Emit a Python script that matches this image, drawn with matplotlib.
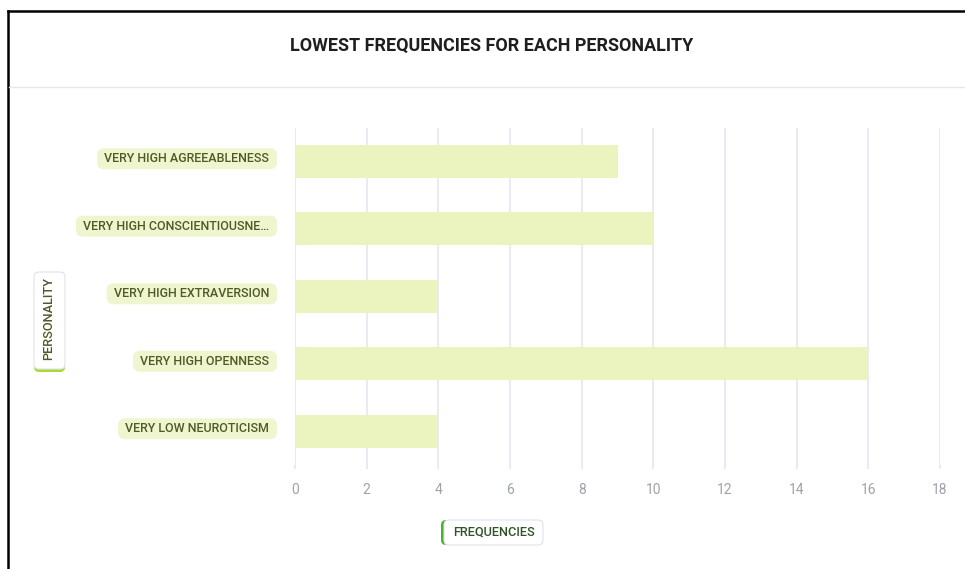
import matplotlib
matplotlib.use("Agg")
import matplotlib.pyplot as plt
from matplotlib.patches import FancyBboxPatch
from matplotlib.lines import Line2D
from matplotlib.transforms import Affine2D

plt.rcParams['font.family'] = ['Roboto', 'DejaVu Sans']

personalities = [
    "VERY HIGH AGREEABLENESS",
    "VERY HIGH CONSCIENTIOUSNE\u2026",
    "VERY HIGH EXTRAVERSION",
    "VERY HIGH OPENNESS",
    "VERY LOW NEUROTICISM",
]
frequencies = [9, 10, 4, 16, 4]
x_ticks = [0, 2, 4, 6, 8, 10, 12, 14, 16, 18]

W, H = 965, 569
LABEL_COLOR = "#4f5a26"
BAR_COLOR = "#ebf4bf"
PILL_COLOR = "#eff6cf"
GRID_COLOR = "#e6e8f0"

fig = plt.figure(figsize=(W / 100, H / 100), dpi=100)
# pixel coordinates, origin at the bottom-left of the figure
px = Affine2D().scale(1 / W, 1 / H) + fig.transFigure


def top(y):
    return H - y


# outer frame and header separator
fig.add_artist(Line2D([8, W], [top(11), top(11)], color="black", lw=1.8, transform=px))
fig.add_artist(Line2D([8, 8], [top(11), 0], color="black", lw=1.8, transform=px))
fig.add_artist(Line2D([9, W], [top(87), top(87)], color="#e4e6ee", lw=1, transform=px))

fig.text(492 / W, 1 - 46 / H, "LOWEST FREQUENCIES FOR EACH PERSONALITY",
         ha="center", va="center", fontsize=13, fontweight="bold", color="#1e1e1e")

ax = fig.add_axes([295 / W, 1 - 465 / H, 645 / W, 337.5 / H])
y_pos = list(range(len(personalities)))
ax.barh(y_pos, frequencies, height=0.49, color=BAR_COLOR, zorder=2)
ax.set_xlim(0, 18)
ax.set_ylim(len(personalities) - 0.5, -0.5)
ax.set_xticks(x_ticks)
ax.set_xticklabels([str(t) for t in x_ticks])
ax.set_yticks([])
ax.xaxis.grid(True, color=GRID_COLOR, lw=1.2, zorder=0)
ax.tick_params(axis="x", length=3, width=1.2, color=GRID_COLOR, pad=10,
               labelsize=10, labelcolor="#9ea2aa")
for s in ax.spines.values():
    s.set_visible(False)

# category labels sitting in rounded pills, a touch above the bar centres
texts = []
for y, name in zip(y_pos, personalities):
    cy = ax.transData.transform((0, y))[1] / fig.dpi * 100 + 2.5
    t = fig.text(269, cy, name, transform=px, ha="right", va="center",
                 fontsize=9, fontweight="medium", color=LABEL_COLOR, zorder=3)
    texts.append((t, cy))

fig.canvas.draw()
renderer = fig.canvas.get_renderer()
for t, cy in texts:
    bb = t.get_window_extent(renderer)
    x0 = bb.x0 * 100 / fig.dpi - 7
    fig.add_artist(FancyBboxPatch((x0, cy - 10.5), 277 - x0, 21,
                                  boxstyle="round,pad=0,rounding_size=7",
                                  fc=PILL_COLOR, ec="none", transform=px, zorder=1))


def tag_box(x0, y0, x1, y1, accent, side):
    # green accent drawn underneath, white card on top leaving a strip visible
    fig.add_artist(FancyBboxPatch((x0, top(y1)), x1 - x0, y1 - y0,
                                  boxstyle="round,pad=0,rounding_size=5",
                                  fc=accent, ec="none", transform=px))
    if side == "bottom":
        box = (x0, top(y1) + 3, x1 - x0, y1 - y0 - 3)
    else:
        box = (x0 + 3, top(y1), x1 - x0 - 3, y1 - y0)
    fig.add_artist(FancyBboxPatch(box[:2], box[2], box[3],
                                  boxstyle="round,pad=0,rounding_size=5",
                                  fc="white", ec="#e2e4e8", lw=0.8, transform=px))


tag_box(34, 272, 65, 372, "#a9d83a", "bottom")
fig.text(49 / W, 1 - 318 / H, "PERSONALITY", rotation=90, ha="center", va="center",
         fontsize=9.2, fontweight="medium", color=LABEL_COLOR, zorder=3)

tag_box(441, 520, 543, 545, "#4cb030", "left")
fig.text(494 / W, 1 - 532 / H, "FREQUENCIES", ha="center", va="center",
         fontsize=9.2, fontweight="medium", color="#2f5527", zorder=3)

fig.savefig("out.png", dpi=100)
